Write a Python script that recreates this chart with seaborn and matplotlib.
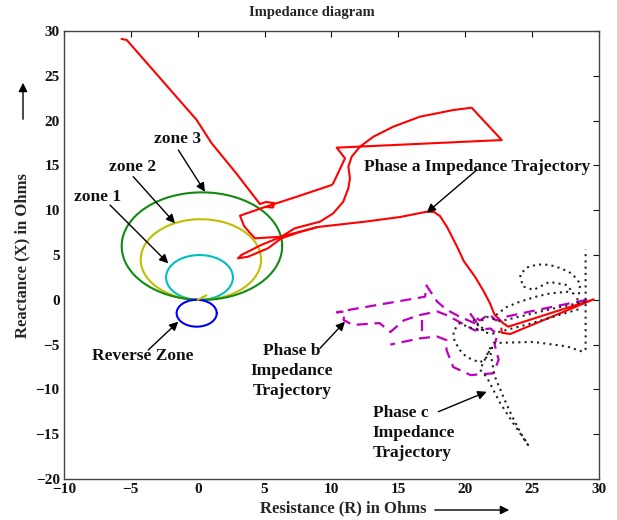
import numpy as np
import pandas as pd
import matplotlib
matplotlib.use("Agg")
import matplotlib.pyplot as plt
import seaborn as sns

# ---------------- data ----------------
# Mho relay characteristics: diameter (ohms) along the characteristic angle (deg)
zone_names = ["zone 1", "zone 2", "zone 3", "Reverse Zone"]
zone_reach = [5.0, 9.0, 12.0, 3.0]
zone_angle = [87.0, 87.0, 87.0, 267.0]
zone_colors = ["#00bfbf", "#bfbf00", "#128a12", "#0000ff"]

line_R = [0.0, 0.65]
line_X = [0.0, 0.5]

# Phase a impedance trajectory (main path + short branch)
phase_a_R = [-5.69, -5.31, -2.82, -0.08, 1.04, 2.86, 4.65, 5.10, 5.70, 5.63, 5.03,
             7.50, 10.01, 10.13, 11.01, 10.39, 22.73, 20.48, 19.11, 16.62, 14.62,
             13.13, 12.13, 11.51, 11.26, 11.38, 11.26, 10.88, 10.13, 9.14, 7.25,
             6.25, 4.75, 3.26, 3.01, 3.76, 5.25, 6.25, 7.64, 8.99, 12.50, 15.12,
             17.12, 17.66, 18.11, 18.64, 19.40, 19.90, 20.73, 21.40, 21.85, 22.10,
             22.22, 22.84, 23.22, 29.60, 23.35, 22.73, 22.70]
phase_a_X = [29.11, 29.00, 24.75, 20.07, 17.47, 14.15, 10.69, 10.92, 10.80, 10.30, 10.36,
             11.55, 12.81, 13.00, 15.79, 16.98, 17.83, 21.44, 21.18, 20.44, 19.32,
             18.20, 17.09, 15.97, 14.85, 13.56, 12.44, 10.95, 9.65, 8.72, 7.98,
             7.04, 6.12, 5.00, 4.63, 4.81, 5.75, 6.86, 7.57, 8.13, 8.72, 9.24,
             9.83, 9.80, 9.35, 8.13, 5.90, 4.30, 2.58, 0.90, -0.39, -1.33,
             -1.70, -2.62, -3.00, 0.05, -3.82, -3.67, -3.20]
phase_a2_R = [5.03, 3.16, 3.46, 3.91, 4.28, 6.22, 8.99]
phase_a2_X = [10.36, 9.39, 8.24, 7.46, 6.86, 7.04, 8.13]

# Phase b impedance trajectory
phase_b_R = [29.1, 25.5, 23.0, 22.3, 21.8, 21.1, 20.4, 21.0, 19.6, 18.6, 17.9, 17.1,
             17.0, 14.1, 11.4, 10.4, 11.0, 10.9, 11.6, 13.6, 14.4, 15.4, 16.6, 17.9,
             18.6, 19.6, 20.7, 21.9, 22.4, 22.2, 22.5, 22.1, 20.4, 19.1, 18.6, 18.6,
             17.9, 16.6, 14.4]
phase_b_X = [0.0, -1.1, -1.9, -2.3, -1.6, -2.3, -1.6, -2.8, -1.9, -1.1, -0.2, 1.6,
             0.35, -0.4, -1.1, -1.4, -1.3, -2.25, -2.8, -2.6, -3.6, -2.3, -1.7, -1.3,
             -1.7, -2.5, -3.4, -3.2, -3.9, -5.0, -6.7, -8.2, -8.4, -7.5, -5.6, -4.5,
             -4.1, -4.3, -5.0]
phase_b2_R = [16.74, 16.74]
phase_b2_X = [-2.25, -3.56]

# Phase c impedance trajectory
phase_c_R = [29.0, 26.5, 24.0, 22.6, 21.6, 20.9, 21.5, 20.3, 19.6, 19.1, 19.2, 19.6,
             20.1, 21.1, 21.6, 21.9, 21.1, 21.6, 22.6, 23.6, 24.6, 24.7, 24.2, 23.5,
             22.9, 22.2, 21.9, 22.1, 22.6, 25.1, 27.6, 28.8, 29.0, 29.0, 29.0, 29.0]
phase_c_X = [-0.2, -1.0, -1.9, -2.4, -1.9, -2.7, -3.4, -3.1, -2.6, -3.5, -4.6, -5.6,
             -6.4, -7.0, -6.4, -5.3, -7.8, -8.6, -11.5, -13.8, -16.0, -16.2, -15.0, -13.0,
             -11.0, -8.5, -6.0, -4.8, -4.8, -4.7, -5.2, -5.8, -5.5, -2.0, 2.0, 5.6]
phase_c2_R = [22.3, 23.1, 24.1, 25.3, 26.3, 27.6, 28.1, 27.6, 26.3, 25.1, 24.3, 24.1,
              24.6, 25.4, 26.3, 27.2, 28.0, 28.6, 28.5, 28.3, 28.9]
phase_c2_X = [-1.7, -0.8, -0.2, 0.35, 0.7, 0.9, 0.7, 1.65, 2.0, 1.1, 1.5, 2.8,
              3.6, 3.95, 3.9, 3.5, 2.9, 1.8, 0.6, -0.4, -0.2]
phase_c3_R = [20.6, 21.4, 22.0, 25.0, 28.6]
phase_c3_X = [-2.2, -3.6, -3.8, -2.6, -1.0]

# Annotations: text, text position, arrow start, arrow end (data units)
ann_text = ["zone 3", "zone 2", "zone 1", "Reverse Zone",
            "Phase a Impedance Trajectory", "Phase b\nImpedance\nTrajectory",
            "Phase c\nImpedance\nTrajectory"]
ann_text_xy = [(-1.48, 17.95), (-4.84, 14.82), (-7.46, 11.47), (-4.09, -6.27),
               (20.92, 14.85), (7.05, -7.95), (13.10, -14.87)]
ann_text_ha = ["center", "center", "center", "center", "center", "center", "left"]
ann_arrow_from = [(-1.45, 16.72), (-4.82, 13.74), (-6.56, 10.58), (-3.70, -5.60),
                  (20.86, 14.49), (9.14, -5.41), (17.99, -12.49)]
ann_arrow_to = [(0.54, 12.06), (-1.70, 8.54), (-2.20, 4.07), (-1.45, -2.44),
                (17.12, 9.72), (11.01, -2.44), (21.60, -10.26)]

x_ticks = [-10, -5, 0, 5, 10, 15, 20, 25, 30]
y_ticks = [-20, -15, -10, -5, 0, 5, 10, 15, 20, 25, 30]

# ---------------- style ----------------
sns.set_style("white")
plt.rcParams["font.family"] = ["Liberation Serif", "DejaVu Serif"]
plt.rcParams["font.weight"] = "bold"

fig = plt.figure(figsize=(6.17, 5.20), dpi=100)
ax = fig.add_axes([0.1037, 0.0788, 0.8671, 0.8616])


def seg_frame(pairs):
    rows = []
    for k, (rr, xx) in enumerate(pairs):
        for r_, x_ in zip(rr, xx):
            rows.append({"R": r_, "X": x_, "seg": k})
    return pd.DataFrame(rows)


# mho circles
theta = np.linspace(0, 2 * np.pi, 361)
for name, d, ang, col in zip(zone_names, zone_reach, zone_angle, zone_colors):
    cr = d / 2 * np.cos(np.radians(ang))
    cx = d / 2 * np.sin(np.radians(ang))
    dfc = pd.DataFrame({"R": cr + d / 2 * np.cos(theta), "X": cx + d / 2 * np.sin(theta)})
    sns.lineplot(data=dfc, x="R", y="X", sort=False, estimator=None, color=col, lw=1.5, ax=ax)

sns.lineplot(data=pd.DataFrame({"R": line_R, "X": line_X}), x="R", y="X", sort=False,
             estimator=None, color=zone_colors[1], lw=1.5, ax=ax)

df_a = seg_frame([(phase_a_R, phase_a_X), (phase_a2_R, phase_a2_X)])
sns.lineplot(data=df_a, x="R", y="X", units="seg", estimator=None, sort=False,
             color="#ff0000", lw=1.5, ax=ax)

df_b = seg_frame([(phase_b_R, phase_b_X), (phase_b2_R, phase_b2_X)])
sns.lineplot(data=df_b, x="R", y="X", units="seg", estimator=None, sort=False,
             color="#c000c0", lw=1.6, linestyle=(0, (5, 3)), ax=ax)

df_c = seg_frame([(phase_c_R, phase_c_X), (phase_c2_R, phase_c2_X), (phase_c3_R, phase_c3_X)])
sns.lineplot(data=df_c, x="R", y="X", units="seg", estimator=None, sort=False,
             color="#222222", lw=1.5, linestyle=(0, (1, 2)), ax=ax)

# annotations
for t, (tx, ty), ha, a0, a1 in zip(ann_text, ann_text_xy, ann_text_ha, ann_arrow_from, ann_arrow_to):
    ax.text(tx, ty, t, ha=ha, va="center", fontsize=12.5, fontweight="bold",
            linespacing=1.3, color="#111111")
    ax.annotate("", xy=a1, xytext=a0,
                arrowprops=dict(arrowstyle="-|>", color="black", lw=1.0,
                                mutation_scale=13, shrinkA=0, shrinkB=0))

ax.set_xlim(-10, 30)
ax.set_ylim(-20, 30)
ax.set_xticks(x_ticks)
ax.set_yticks(y_ticks)
ax.tick_params(direction="in", top=True, right=True, length=4, width=0.8,
               labelsize=11, pad=3, colors="#111111")
for lab in ax.get_xticklabels() + ax.get_yticklabels():
    lab.set_fontweight("bold")
for sp in ax.spines.values():
    sp.set_color("#444444")
    sp.set_linewidth(1.0)

ax.set_xlabel("Resistance (R) in Ohms", fontsize=12, fontweight="bold", va="center")
ax.xaxis.set_label_coords(0.5215, -0.0647)
ax.set_ylabel("Reactance (X) in Ohms", fontsize=12, fontweight="bold", va="center")
ax.yaxis.set_label_coords(-0.0785, 0.4978)
ax.set_title("Impedance diagram", fontsize=10.5, fontweight="bold", x=0.4636, y=1.042,
             va="center", pad=0)

# arrows beside the axis labels
fig.add_artist(matplotlib.patches.FancyArrowPatch(
    (432 / 617, 1 - 510 / 520), (512 / 617, 1 - 510 / 520), transform=fig.transFigure,
    arrowstyle="-|>", mutation_scale=13, color="black", lw=1.0))
fig.add_artist(matplotlib.patches.FancyArrowPatch(
    (23 / 617, 1 - 122 / 520), (23 / 617, 1 - 80 / 520), transform=fig.transFigure,
    arrowstyle="-|>", mutation_scale=13, color="black", lw=1.0))

fig.savefig("out.png", dpi=100)
